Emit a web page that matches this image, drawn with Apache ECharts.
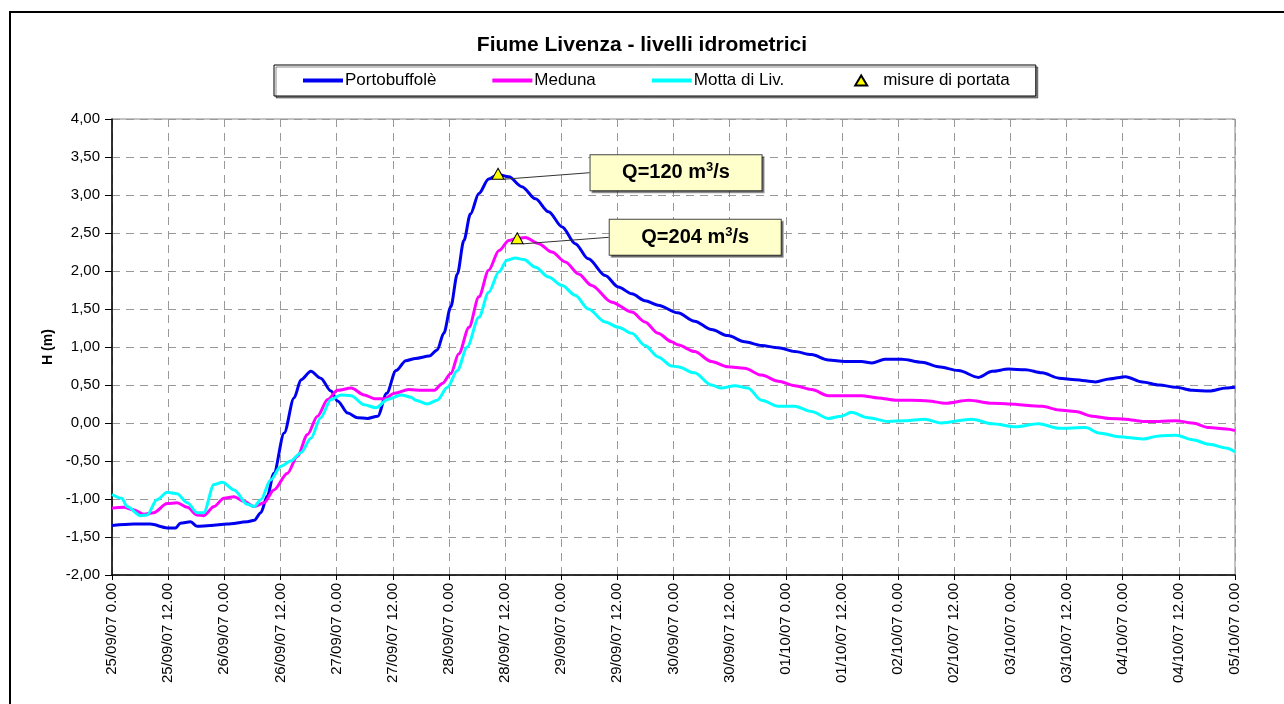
<!DOCTYPE html>
<html>
<head>
<meta charset="utf-8">
<title>Fiume Livenza - livelli idrometrici</title>
<script src="https://cdn.jsdelivr.net/npm/echarts@6/dist/echarts.min.js"></script>
<style>
  html, body { margin: 0; padding: 0; background: #fff; }
  #chart { width: 1284px; height: 704px; }
</style>
</head>
<body>
<div id="chart"></div>
<script>
// hours since 25/09/07 0.00 and levels H (m)
const portoHours = [0, 4.6, 8.2, 11.8, 13.6, 14.6, 16.8, 18.2, 21, 24.6, 28.9, 30.4, 31.8, 33.2, 34.6, 36.8, 38.9, 40.4, 42.5, 44.6, 46.8, 48.2, 50.4, 52.5, 54.6, 56.8, 58.7, 60.7, 62.8, 64.9, 67.8, 69.5, 70.9, 72.4, 73.8, 75.2, 76.6, 78.4, 80.5, 82.5, 84.8, 87.6, 90.5, 93.3, 96.2, 99.0, 101.8, 105.4, 108.2, 111.1, 113.9, 116.7, 120.9, 124.5, 128.1, 131.6, 135.2, 138.8, 142.4, 145.9, 149.5, 153.1, 156.6, 160.2, 162.4, 165.2, 168.8, 173.1, 176.6, 180.9, 185.2, 188.1, 191.6, 195.2, 198.8, 202.4, 205.9, 210.2, 213.1, 216.6, 220.2, 223.8, 227.4, 230.9, 234.5, 238.1, 240];
const portoLevels = [-1.35, -1.33, -1.33, -1.38, -1.38, -1.32, -1.30, -1.36, -1.35, -1.33, -1.30, -1.28, -1.18, -0.96, -0.66, -0.13, 0.33, 0.57, 0.68, 0.59, 0.42, 0.29, 0.13, 0.07, 0.06, 0.09, 0.39, 0.69, 0.82, 0.85, 0.88, 0.96, 1.18, 1.53, 1.96, 2.40, 2.75, 3.02, 3.21, 3.27, 3.24, 3.11, 2.95, 2.78, 2.58, 2.36, 2.16, 1.94, 1.79, 1.70, 1.61, 1.55, 1.45, 1.34, 1.23, 1.15, 1.07, 1.02, 0.99, 0.94, 0.90, 0.83, 0.81, 0.81, 0.79, 0.84, 0.84, 0.80, 0.74, 0.69, 0.60, 0.68, 0.71, 0.70, 0.66, 0.59, 0.57, 0.54, 0.58, 0.61, 0.54, 0.50, 0.47, 0.43, 0.42, 0.46, 0.47];

const medunaHours = [0, 2.5, 4.6, 6.8, 8.9, 11.8, 13.9, 16.1, 18.2, 19.6, 21.8, 23.9, 26.1, 28.2, 30.4, 32.5, 34.6, 37.5, 39.6, 41.8, 43.9, 46.1, 48.2, 51.1, 53.9, 56.1, 58.2, 60.4, 63.4, 66.3, 68.8, 70.6, 72.4, 74.1, 76.3, 78.4, 80.5, 82.7, 84.8, 86.6, 88.3, 91.2, 94.0, 96.9, 99.7, 102.5, 106.8, 111.1, 113.9, 116.7, 119.6, 120.9, 124.5, 128.1, 131.6, 135.2, 138.8, 142.4, 145.9, 149.5, 153.1, 156.6, 160.2, 163.8, 167.4, 170.9, 174.5, 178.1, 183.1, 188.1, 191.6, 198.8, 202.4, 205.9, 209.5, 213.1, 216.6, 220.2, 223.8, 227.4, 230.9, 234.5, 238.1, 240];
const medunaLevels = [-1.12, -1.11, -1.14, -1.20, -1.18, -1.06, -1.05, -1.11, -1.21, -1.22, -1.10, -0.99, -0.97, -1.03, -1.10, -1.05, -0.88, -0.66, -0.44, -0.15, 0.09, 0.31, 0.43, 0.46, 0.37, 0.32, 0.32, 0.39, 0.44, 0.43, 0.43, 0.52, 0.65, 0.91, 1.26, 1.66, 2.01, 2.27, 2.40, 2.43, 2.44, 2.36, 2.25, 2.12, 1.96, 1.81, 1.59, 1.46, 1.33, 1.18, 1.07, 1.03, 0.94, 0.81, 0.74, 0.72, 0.63, 0.55, 0.49, 0.44, 0.36, 0.36, 0.36, 0.33, 0.30, 0.30, 0.29, 0.26, 0.30, 0.26, 0.25, 0.22, 0.17, 0.15, 0.09, 0.06, 0.05, 0.02, 0.02, 0.03, 0.00, -0.06, -0.08, -0.10];

const mottaHours = [0, 2.1, 3.2, 6.1, 7.5, 9.6, 11.8, 13.9, 16.1, 18.2, 19.6, 21.8, 23.6, 26.1, 28.9, 30.4, 31.8, 33.9, 36.1, 38.2, 40.4, 42.5, 44.6, 46.8, 48.9, 51.1, 53.9, 56.4, 58.9, 61.8, 63.9, 64.9, 67.4, 69.5, 71.7, 73.8, 75.9, 78.4, 80.5, 82.7, 84.4, 86.2, 88.0, 90.5, 93.3, 96.2, 99.0, 101.8, 105.4, 108.2, 111.1, 113.9, 116.7, 119.6, 120.9, 124.5, 128.1, 130.2, 133.1, 135.9, 138.8, 142.4, 145.9, 149.5, 153.1, 155.9, 158.0, 161.6, 165.9, 169.5, 173.6, 177.2, 183.8, 188.1, 193.1, 198.0, 202.4, 208.1, 210.9, 215.2, 220.2, 223.8, 227.4, 230.9, 234.5, 238.1, 240];
const mottaLevels = [-0.94, -0.99, -1.10, -1.22, -1.21, -1.01, -0.91, -0.93, -1.05, -1.18, -1.18, -0.81, -0.78, -0.88, -1.07, -1.10, -1.01, -0.75, -0.57, -0.50, -0.39, -0.20, 0.07, 0.31, 0.37, 0.36, 0.24, 0.20, 0.31, 0.37, 0.34, 0.30, 0.25, 0.30, 0.47, 0.69, 1.00, 1.39, 1.72, 1.99, 2.14, 2.17, 2.15, 2.05, 1.92, 1.81, 1.68, 1.50, 1.33, 1.26, 1.18, 1.02, 0.87, 0.75, 0.74, 0.66, 0.50, 0.46, 0.49, 0.46, 0.30, 0.22, 0.22, 0.15, 0.06, 0.09, 0.14, 0.07, 0.02, 0.03, 0.05, 0.00, 0.05, -0.01, -0.05, -0.01, -0.07, -0.06, -0.13, -0.18, -0.21, -0.17, -0.16, -0.22, -0.28, -0.33, -0.38];

// discharge measurements
const measureHours = [82.5, 86.6];
const measureLevels = [3.28, 2.43];
const measureFlows = [120, 204];

const xTickLabels = ['25/09/07 0.00', '25/09/07 12.00', '26/09/07 0.00', '26/09/07 12.00', '27/09/07 0.00', '27/09/07 12.00', '28/09/07 0.00', '28/09/07 12.00', '29/09/07 0.00', '29/09/07 12.00', '30/09/07 0.00', '30/09/07 12.00', '01/10/07 0.00', '01/10/07 12.00', '02/10/07 0.00', '02/10/07 12.00', '03/10/07 0.00', '03/10/07 12.00', '04/10/07 0.00', '04/10/07 12.00', '05/10/07 0.00'];

const FONT = 'Liberation Sans, Arial, sans-serif';

// legend icons: the outer moveTo points fix the frame so the shape is not stretched
const LINE_ICON = 'path://M0,0M0,3L40,3L40,7L0,7ZM40,10';
const TRI_ICON = 'path://M0,0M14,10L20,0L26,10ZM40,10';

const pairs = (xs, ys) => xs.map((x, i) => [x, ys[i]]);

const lineSeries = (name, color, xs, ys) => ({
  name: name,
  type: 'line',
  data: pairs(xs, ys),
  symbol: 'none',
  showSymbol: false,
  smooth: 0.3,
  smoothMonotone: 'x',
  lineStyle: { color: color, width: 3 },
  itemStyle: { color: color },
  z: 2
});

const chart = echarts.init(document.getElementById('chart'));

chart.setOption({
  animation: false,
  backgroundColor: '#fff',
  textStyle: { fontFamily: FONT, color: '#000' },
  graphic: [{
    type: 'rect',
    shape: { x: 10, y: 12, width: 1300, height: 720 },
    style: { fill: 'none', stroke: '#000', lineWidth: 2 },
    silent: true
  }],
  title: {
    text: 'Fiume Livenza - livelli idrometrici',
    left: 'center',
    top: 30,
    textStyle: { fontFamily: FONT, fontSize: 21, fontWeight: 'bold', color: '#000' }
  },
  legend: {
    left: 274,
    top: 65,
    padding: [7, 26, 7, 29],
    itemWidth: 40,
    itemHeight: 10,
    itemGap: 56,
    borderColor: '#000',
    borderWidth: 1,
    backgroundColor: '#fff',
    shadowColor: 'rgba(0,0,0,0.45)',
    shadowOffsetX: 2,
    shadowOffsetY: 2,
    textStyle: { fontFamily: FONT, fontSize: 17, color: '#000', padding: [0, 0, 0, -3] },
    data: [
      { name: 'Portobuffolè', icon: LINE_ICON },
      { name: 'Meduna', icon: LINE_ICON },
      { name: 'Motta di Liv.', icon: LINE_ICON },
      { name: 'misure di portata', icon: TRI_ICON }
    ]
  },
  grid: {
    left: 112,
    right: 49,
    top: 119,
    bottom: 129,
    show: true,
    borderColor: '#888',
    borderWidth: 1
  },
  xAxis: {
    type: 'value',
    min: 0,
    max: 240,
    interval: 12,
    axisLine: { show: true, onZero: false, lineStyle: { color: '#000', width: 1.5 } },
    axisTick: { show: true, length: 5, lineStyle: { color: '#000' } },
    axisLabel: {
      rotate: 90,
      margin: 8,
      fontFamily: FONT,
      fontSize: 15,
      color: '#000',
      showMinLabel: true,
      showMaxLabel: true,
      formatter: v => xTickLabels[Math.round(v / 12)]
    },
    splitLine: { show: true, lineStyle: { color: '#999', type: [8, 6], width: 1 } }
  },
  yAxis: {
    type: 'value',
    min: -2,
    max: 4,
    interval: 0.5,
    name: 'H (m)',
    nameLocation: 'middle',
    nameGap: 57,
    nameTextStyle: { fontFamily: FONT, fontSize: 14, fontWeight: 'bold', color: '#000' },
    axisLine: { show: true, onZero: false, lineStyle: { color: '#000', width: 1.5 } },
    axisTick: { show: true, length: 7, lineStyle: { color: '#000' } },
    axisLabel: {
      margin: 12,
      fontFamily: FONT,
      fontSize: 15,
      color: '#000',
      formatter: v => v.toFixed(2).replace('.', ',')
    },
    splitLine: { show: true, lineStyle: { color: '#999', type: [8, 6], width: 1 } }
  },
  series: [
    lineSeries('Portobuffolè', '#0000F0', portoHours, portoLevels),
    lineSeries('Meduna', '#FF00FF', medunaHours, medunaLevels),
    lineSeries('Motta di Liv.', '#00FFFF', mottaHours, mottaLevels),
    {
      name: 'misure di portata',
      type: 'scatter',
      symbol: 'triangle',
      symbolSize: [12, 11],
      itemStyle: { color: '#FFFF00', borderColor: '#000', borderWidth: 1, opacity: 1 },
      data: pairs(measureHours, measureLevels),
      z: 5,
      label: {
        show: true,
        position: 'inside',
        width: 171,
        lineHeight: 35,
        align: 'center',
        verticalAlign: 'middle',
        backgroundColor: '#FFFFCC',
        borderColor: '#444',
        borderWidth: 1,
        shadowColor: 'rgba(0,0,0,0.4)',
        shadowOffsetX: 2,
        shadowOffsetY: 2,
        formatter: p => '{q|Q=' + measureFlows[p.dataIndex] + ' m}{sup|3}{q|/s}',
        rich: {
          q: { fontFamily: FONT, fontSize: 20, fontWeight: 'bold', color: '#000', lineHeight: 35 },
          sup: { fontFamily: FONT, fontSize: 13, fontWeight: 'bold', color: '#000', padding: [0, 0, 10, 0] }
        }
      },
      labelLayout: { dx: 178, dy: -1 },
      labelLine: { show: true, lineStyle: { color: '#333', width: 1 } }
    }
  ]
});
</script>
</body>
</html>
